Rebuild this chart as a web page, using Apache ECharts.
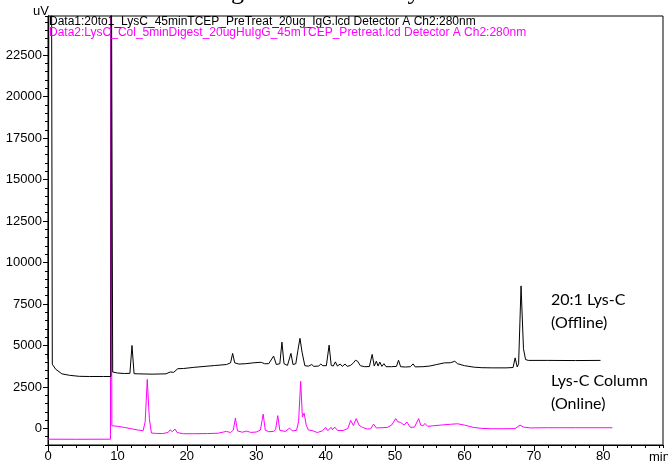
<!DOCTYPE html>
<html>
<head>
<meta charset="utf-8">
<script src="https://cdn.jsdelivr.net/npm/echarts@6/dist/echarts.min.js"></script>
<style>html,body{margin:0;padding:0;background:#fff;}#c{width:668px;height:466px;}</style>
</head>
<body>
<div id="c"></div>
<script>
// Data1 (black, 20:1 Lys-C offline): [time (min), signal (uV)]
var data1 = [[0,4170],[0.15,30000],[0.5,30000],[0.62,3870],[1.1,3570],[2,3290],[3.1,3200],[4.5,3140],[6,3130],[8,3130],[9.05,3130],[9.12,30000],[9.22,30000],[9.32,3400],[10,3340],[11,3310],[11.8,3320],[12.1,5000],[12.4,3300],[13,3290],[15,3270],[17,3290],[17.6,3400],[17.8,3510],[18.1,3380],[18.7,3600],[19.5,3610],[21,3680],[22.9,3750],[24,3790],[25.7,3850],[26.3,3950],[26.6,4520],[26.9,3950],[27.5,3880],[28.5,3900],[29.5,3950],[30.4,3980],[30.6,4100],[30.75,3980],[30.9,4100],[31.2,3900],[31.8,3900],[32.5,4360],[32.9,3850],[33.4,3900],[33.7,5200],[34.0,3900],[34.5,3800],[35.0,4520],[35.3,3850],[35.7,3900],[36.0,4700],[36.3,5430],[36.6,4600],[36.75,4660],[37.0,3780],[37.5,3750],[38.0,3850],[38.3,3740],[39.0,3760],[39.3,3880],[39.6,3780],[39.8,3900],[40.1,3780],[40.5,5020],[40.8,3800],[41.1,3760],[41.4,4010],[41.7,3760],[42.1,3880],[42.4,3740],[42.8,3880],[43.1,3740],[43.6,3800],[44.0,3950],[44.3,4110],[44.6,4050],[45.0,3780],[45.6,3720],[46.3,3730],[46.7,4460],[47.0,3760],[47.3,4050],[47.55,3760],[47.8,4000],[48.1,3740],[48.4,3900],[48.7,3720],[49.5,3720],[50.2,3740],[50.5,4110],[50.8,3720],[51.5,3700],[52.2,3720],[52.6,3890],[52.9,3710],[54,3720],[55,3760],[56,3850],[57.1,3950],[58.0,3960],[58.6,4050],[59.0,3900],[60,3780],[61.4,3690],[62.5,3660],[64,3650],[66,3650],[67.0,3670],[67.3,4250],[67.6,3700],[67.8,3900],[68.15,8590],[68.5,4800],[68.8,4150],[69.2,4100],[72,4100],[76,4090],[79.6,4100]];

// Data2 (magenta, Lys-C column online): [time (min), signal (uV)]
var data2 = [[0,-650],[4,-655],[9.0,-650],[9.05,30000],[9.15,30000],[9.2,160],[9.4,160],[10,130],[11,60],[12,-20],[13,-100],[13.7,-140],[14.0,400],[14.3,2950],[14.6,600],[14.9,-280],[15.5,-300],[16.5,-310],[17.3,-250],[17.6,-80],[17.9,-200],[18.3,-40],[18.6,-250],[19.5,-320],[21,-320],[23,-310],[24.5,-290],[25.7,-180],[26.3,-250],[26.7,-100],[27.0,620],[27.3,-150],[28,-230],[28.6,-160],[29.2,-240],[30,-220],[30.6,-100],[31.0,860],[31.3,-100],[31.8,-200],[32.5,-180],[32.8,-50],[33.1,770],[33.4,-120],[34.2,-180],[34.8,20],[35.2,-150],[35.8,-120],[36.1,400],[36.4,2840],[36.65,700],[36.9,920],[37.2,200],[37.5,-90],[38.2,-150],[38.8,-250],[39.5,-150],[40.0,60],[40.3,-130],[40.8,60],[41.0,-80],[41.3,80],[41.7,-120],[42.5,-130],[43.2,0],[43.6,480],[44.0,180],[44.4,590],[44.8,200],[45.3,60],[46.0,-40],[46.5,-20],[46.9,260],[47.3,30],[48.0,40],[48.9,60],[49.5,200],[50.1,590],[50.4,400],[50.8,360],[51.3,200],[51.7,390],[52.2,60],[52.8,80],[53.4,590],[53.7,200],[54.0,150],[54.3,300],[54.7,120],[55.5,160],[56.6,200],[58,250],[59.0,280],[60,200],[61.3,60],[62.5,0],[64,-20],[66,-20],[67.3,-10],[68.0,200],[68.5,80],[69.5,30],[72,40],[76,40],[81.3,40]];

var xMajorTicks = [0,10,20,30,40,50,60,70,80];
var yMajorTicks = [0,2500,5000,7500,10000,12500,15000,17500,20000,22500];
var X_MINOR_STEP = 2, Y_MINOR_STEP = 500;

var legend1 = 'Data1:20to1_LysC_45minTCEP_PreTreat_20ug_IgG.lcd Detector A Ch2:280nm';
var legend2 = 'Data2:LysC_Col_5minDigest_20ugHuIgG_45mTCEP_Pretreat.lcd Detector A Ch2:280nm';
var label1 = ['20:1 Lys-C', '(Offline)'];
var label2 = ['Lys-C Column', '(Online)'];

var X_MIN = 0, X_MAX = 88.6, Y_MIN = -1000, Y_MAX = 24860;
var axisFont = 'Liberation Sans, Arial, sans-serif';
function plain(v) { return String(v); }

var chart = echarts.init(document.getElementById('c'), null, {renderer: 'canvas'});
chart.setOption({
  animation: false,
  backgroundColor: '#fff',
  grid: {left: 48, right: 5, top: 16, bottom: 21, show: true, borderColor: '#000', borderWidth: 1, backgroundColor: 'transparent'},
  xAxis: [{
    type: 'value', min: X_MIN, max: X_MAX, position: 'bottom', interval: X_MINOR_STEP,
    axisLine: {show: true, onZero: false, lineStyle: {color: '#000', width: 1}},
    axisTick: {show: true, length: 3, lineStyle: {color: '#000'}},
    axisLabel: {show: false},
    splitLine: {show: false}
  }, {
    type: 'value', min: X_MIN, max: X_MAX, position: 'bottom',
    axisLine: {show: false, onZero: false},
    axisTick: {show: true, length: 6, customValues: xMajorTicks, lineStyle: {color: '#000'}},
    axisLabel: {customValues: xMajorTicks, formatter: plain, color: '#000', fontSize: 13, fontFamily: axisFont, margin: 5},
    splitLine: {show: false}
  }],
  yAxis: [{
    type: 'value', min: Y_MIN, max: Y_MAX, position: 'left', interval: Y_MINOR_STEP,
    axisLine: {show: true, onZero: false, lineStyle: {color: '#000', width: 1}},
    axisTick: {show: true, length: 3, lineStyle: {color: '#000'}},
    axisLabel: {show: false},
    splitLine: {show: false}
  }, {
    type: 'value', min: Y_MIN, max: Y_MAX, position: 'left',
    axisLine: {show: false, onZero: false},
    axisTick: {show: true, length: 5, customValues: yMajorTicks, lineStyle: {color: '#000'}},
    axisLabel: {customValues: yMajorTicks, formatter: plain, color: '#000', fontSize: 13, fontFamily: axisFont, margin: 6},
    splitLine: {show: false}
  }],
  series: [{
    name: 'Data2', type: 'line', xAxisIndex: 1, yAxisIndex: 1, data: data2,
    symbol: 'none', smooth: false, z: 2, clip: true,
    lineStyle: {color: '#ff00ff', width: 1}
  }, {
    name: 'Data1', type: 'line', xAxisIndex: 0, yAxisIndex: 0, data: data1,
    symbol: 'none', smooth: false, z: 3, clip: true,
    lineStyle: {color: '#000000', width: 1}
  }],
  graphic: [
    {type: 'text', left: 205, top: -21, z: 10, style: {text: 'Digestion Efficiency', font: '26px "Liberation Serif", serif', fill: '#000'}},
    {type: 'text', left: 33, top: 5, z: 10, style: {text: 'uV', font: '13px ' + axisFont, fill: '#000'}},
    {type: 'text', left: 49, top: 16, z: 10, style: {text: legend1, font: '12px ' + axisFont, fill: '#000'}},
    {type: 'text', left: 49, top: 27, z: 10, style: {text: legend2, font: '12px ' + axisFont, fill: '#ff00ff'}},
    {type: 'text', left: 649, top: 451, z: 10, style: {text: 'min', font: '13px ' + axisFont, fill: '#000'}},
    {type: 'text', left: 551, top: 289, z: 10, style: {text: label1.join('\n'), font: '16px Lato, sans-serif', lineHeight: 22.5, fill: '#000'}},
    {type: 'text', left: 551, top: 369, z: 10, style: {text: label2.join('\n'), font: '16px Lato, sans-serif', lineHeight: 23.5, fill: '#000'}}
  ]
});
</script>
</body>
</html>
